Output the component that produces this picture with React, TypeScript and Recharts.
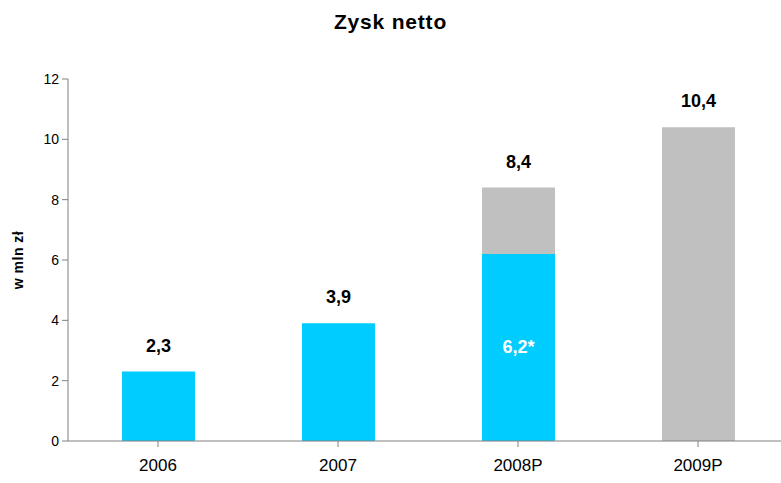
import React from "react";
import { BarChart, Bar, XAxis, YAxis, LabelList, Label } from "recharts";

const years = ["2006", "2007", "2008P", "2009P"];
const actual = [2.3, 3.9, 6.2, 0];
const forecast = [0, 0, 2.2, 10.4];
const totals = ["2,3", "3,9", "8,4", "10,4"];
const innerLabels = ["", "", "6,2*", ""];
const yTicks = [0, 2, 4, 6, 8, 10, 12];

const data = years.map((year, i) => ({
  year,
  actual: actual[i],
  forecast: forecast[i],
  actualTop: forecast[i] === 0 ? totals[i] : "",
  forecastTop: forecast[i] !== 0 ? totals[i] : "",
  inner: innerLabels[i],
}));

const font = "'Liberation Sans', Arial, sans-serif";

const TotalLabel = (props: any) => {
  const { x, y, width, value } = props;
  if (!value) return null;
  return (
    <text x={x + width / 2} y={y - 20} textAnchor="middle" fontSize={18} fontWeight="bold" fill="#000" fontFamily={font}>
      {value}
    </text>
  );
};

const InnerLabel = (props: any) => {
  const { x, y, width, height, value } = props;
  if (!value) return null;
  return (
    <text x={x + width / 2} y={y + height / 2 + 6} textAnchor="middle" fontSize={18} fontWeight="bold" fill="#fff" fontFamily={font}>
      {value}
    </text>
  );
};

const App = () => {
  return (
    <div style={{ position: "absolute", left: 0, top: 0, width: 781, height: 483, overflow: "hidden", background: "#fff", fontFamily: font }}>
      <div style={{ position: "absolute", top: 10, width: 781, textAlign: "center", fontSize: 21, fontWeight: "bold", color: "#000", letterSpacing: 0.8 }}>
        Zysk netto
      </div>
      <BarChart width={800} height={483} data={data} margin={{ top: 79, right: 12, left: 0, bottom: 12 }} barCategoryGap={0}>
        <XAxis
          dataKey="year"
          height={30}
          stroke="#808080"
          tickLine={{ stroke: "#808080" }}
          tick={{ fill: "#000", fontSize: 17, fontFamily: font }}
          tickSize={6}
          tickMargin={12}
          interval={0}
        />
        <YAxis
          width={68}
          domain={[0, 12]}
          ticks={yTicks}
          stroke="#808080"
          tick={{ fill: "#000", fontSize: 14, fontFamily: font }}
          tickSize={6}
          tickMargin={3}
        >
          <Label
            value="w mln zł"
            angle={-90}
            position="insideLeft"
            offset={18}
            style={{ fontSize: 14, fontWeight: "bold", fill: "#000", fontFamily: font, textAnchor: "middle", letterSpacing: 0.5 }}
          />
        </YAxis>
        <Bar dataKey="actual" stackId="a" fill="#00CCFF" barSize={73} isAnimationActive={false}>
          <LabelList dataKey="inner" content={InnerLabel} />
          <LabelList dataKey="actualTop" content={TotalLabel} />
        </Bar>
        <Bar dataKey="forecast" stackId="a" fill="#C0C0C0" barSize={73} isAnimationActive={false}>
          <LabelList dataKey="forecastTop" content={TotalLabel} />
        </Bar>
      </BarChart>
    </div>
  );
};

export default App;
